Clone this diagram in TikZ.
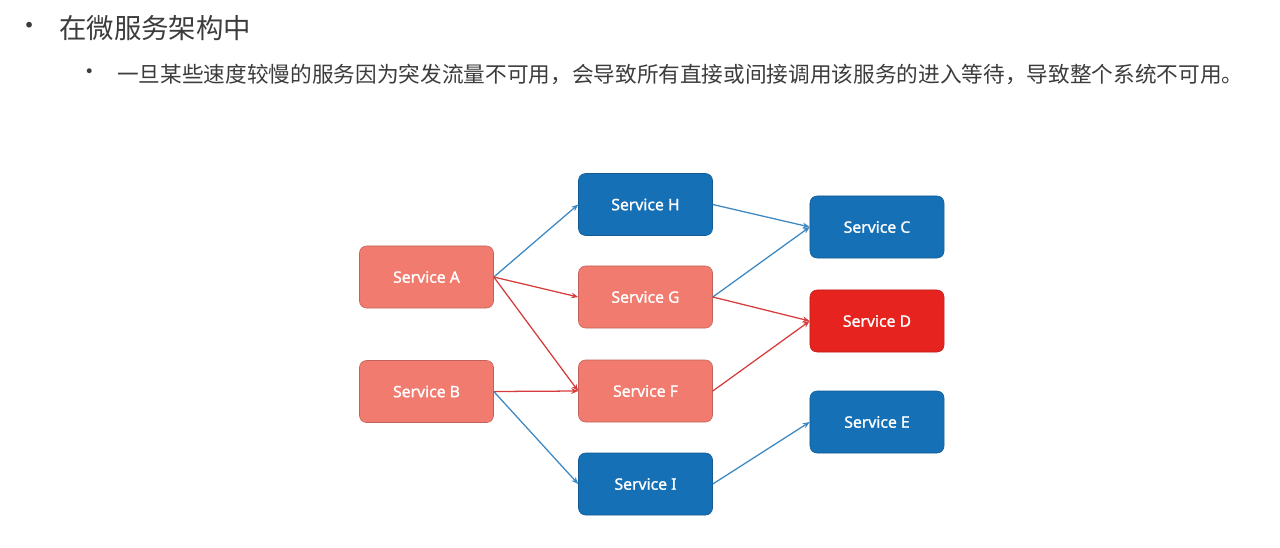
\documentclass[tikz,border=0pt]{standalone}
\usepackage{fontspec}
\usepackage{xcolor}
\usetikzlibrary{arrows.meta}
\setmainfont{Noto Sans CJK SC}
\newfontfamily\labelfont[FakeBold=1.2]{Noto Sans}
\newfontfamily\dotfont{DejaVu Sans}
\definecolor{svcblue}{HTML}{1670B6}
\definecolor{svcsalmon}{HTML}{F17B6E}
\definecolor{svcred}{HTML}{E6231F}
\definecolor{linkblue}{HTML}{3B88C3}
\definecolor{linkred}{HTML}{D63C3C}
\definecolor{textgray}{HTML}{3C3C3C}
\tikzset{
  service/.style={rectangle,rounded corners=5pt,minimum width=3.35cm,
    minimum height=1.55cm,text=white,font=\labelfont\fontsize{11.2}{13}\selectfont,
    line width=0.4pt},
  ok/.style={service,fill=svcblue,draw=svcblue!80!black},
  slow/.style={service,fill=svcsalmon,draw=svcsalmon!80!black},
  down/.style={service,fill=svcred,draw=svcred!80!black},
  call/.style={draw=linkblue,line width=0.9pt,-{Stealth[length=5pt,width=4pt]}},
  stuck/.style={draw=linkred,line width=0.9pt,-{Stealth[length=5pt,width=4pt]}},
  bullet/.style={text=textgray,anchor=west,inner sep=0pt}
}
\begin{document}
\begin{tikzpicture}[x=0.025cm,y=-0.025cm]
  \useasboundingbox (0,0) rectangle (1280,547);
  % heading
  \node[bullet,font=\dotfont\fontsize{14}{14}\selectfont] (dot1) at (23,27) {•};
  \node[bullet,font=\fontsize{19.5}{22}\selectfont] (head) at (59,28) {在微服务架构中};
  \node[bullet,font=\dotfont\fontsize{12}{12}\selectfont] (dot2) at (84,73) {•};
  \node[bullet,font=\fontsize{15.4}{18}\selectfont] (line) at (117,74)
    {一旦某些速度较慢的服务因为突发流量不可用，会导致所有直接或间接调用该服务的进入等待，导致整个系统不可用。};
  % services
  \node[slow] (svcA) at (426.5,277) {Service A};
  \node[slow] (svcB) at (426.5,391.5) {Service B};
  \node[ok]   (svcH) at (645.5,204.5) {Service H};
  \node[slow] (svcG) at (645.5,297) {Service G};
  \node[slow] (svcF) at (645.5,391) {Service F};
  \node[ok]   (svcI) at (645.5,484) {Service I};
  \node[ok]   (svcC) at (877,227) {Service C};
  \node[down] (svcD) at (877,321) {Service D};
  \node[ok]   (svcE) at (877,422) {Service E};
  % calls
  \draw[call]  (svcA.east) -- (svcH.west);
  \draw[stuck] (svcA.east) -- (svcG.west);
  \draw[stuck] (svcA.east) -- (svcF.west);
  \draw[stuck] (svcB.east) -- (svcF.west);
  \draw[call]  (svcB.east) -- (svcI.west);
  \draw[call]  (svcH.east) -- (svcC.west);
  \draw[call]  (svcG.east) -- (svcC.west);
  \draw[stuck] (svcG.east) -- (svcD.west);
  \draw[stuck] (svcF.east) -- (svcD.west);
  \draw[call]  (svcI.east) -- (svcE.west);
\end{tikzpicture}
\end{document}
